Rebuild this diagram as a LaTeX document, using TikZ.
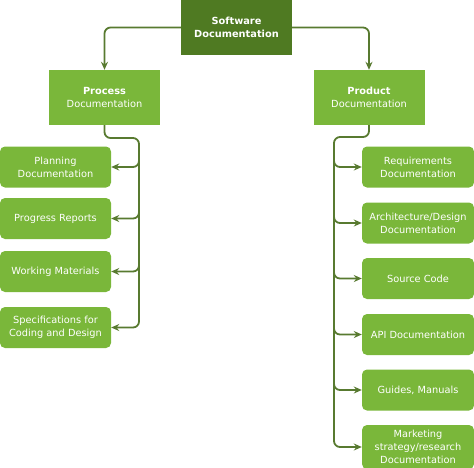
\documentclass[tikz,border=0pt]{standalone}
\usepackage{fontspec}
\setmainfont{DejaVu Sans}
\usetikzlibrary{arrows.meta}
\definecolor{darkg}{HTML}{4F7A22}
\definecolor{lightg}{HTML}{7AB73A}
\definecolor{lineg}{HTML}{587A30}
\begin{document}
\begin{tikzpicture}[x=1pt,y=-1pt,
  every node/.style={text=white, font=\fontsize{9.8}{13}\selectfont, align=center, inner sep=0pt},
  topbox/.style={fill=darkg, minimum width=111pt, minimum height=55pt},
  midbox/.style={fill=lightg, minimum width=111pt, minimum height=55pt},
  leaf/.style={fill=lightg, rounded corners=5pt, minimum width=111pt, minimum height=41pt},
  rleaf/.style={fill=lightg, rounded corners=5pt, minimum width=112pt, minimum height=41pt},
  arr/.style={draw=lineg, line width=1.8pt, rounded corners=6pt, -{Stealth[length=8pt,width=7pt]}}]
\useasboundingbox (0,0) rectangle (474,467);
\node[topbox] (sw) at (236.5,27.5) {\textbf{Software}\\\textbf{Documentation}};
\node[midbox] (proc) at (104.5,97.5) {\textbf{Process}\\Documentation};
\node[midbox] (prod) at (369,97.5) {\textbf{Product}\\Documentation};
\draw[arr] (sw.west) -| (proc.north);
\draw[arr] (sw.east) -| (prod.north);
% left leaves
\node[leaf] (plan) at (55.5,167) {Planning\\Documentation};
\node[leaf] (prog) at (55.5,218.5) {Progress Reports};
\node[leaf] (work) at (55.5,271.5) {Working Materials};
\node[leaf] (spec) at (55.5,327.5) {Specifications for\\Coding and Design};
\coordinate (lt) at (139,138);
\coordinate (lt2) at (139,150);
\draw[arr] (proc.south) |- (lt) |- (spec.east);
\draw[arr] (lt2) |- (plan.east);
\draw[arr] (lt2) |- (prog.east);
\draw[arr] (lt2) |- (work.east);
% right leaves
\node[rleaf] (req) at (418,167) {Requirements\\Documentation};
\node[rleaf] (arch) at (418,223) {Architecture/Design\\Documentation};
\node[rleaf] (src) at (418,278.5) {Source Code};
\node[rleaf] (api) at (418,334.5) {API Documentation};
\node[rleaf] (guide) at (418,390) {Guides, Manuals};
\node[rleaf, minimum height=44pt] (mkt) at (418,447) {Marketing\\strategy/research\\Documentation};
\coordinate (rt) at (334,137);
\coordinate (rt2) at (334,150);
\draw[arr] (prod.south) |- (rt) |- (mkt.west);
\draw[arr] (rt2) |- (req.west);
\draw[arr] (rt2) |- (arch.west);
\draw[arr] (rt2) |- (src.west);
\draw[arr] (rt2) |- (api.west);
\draw[arr] (rt2) |- (guide.west);
\end{tikzpicture}
\end{document}
